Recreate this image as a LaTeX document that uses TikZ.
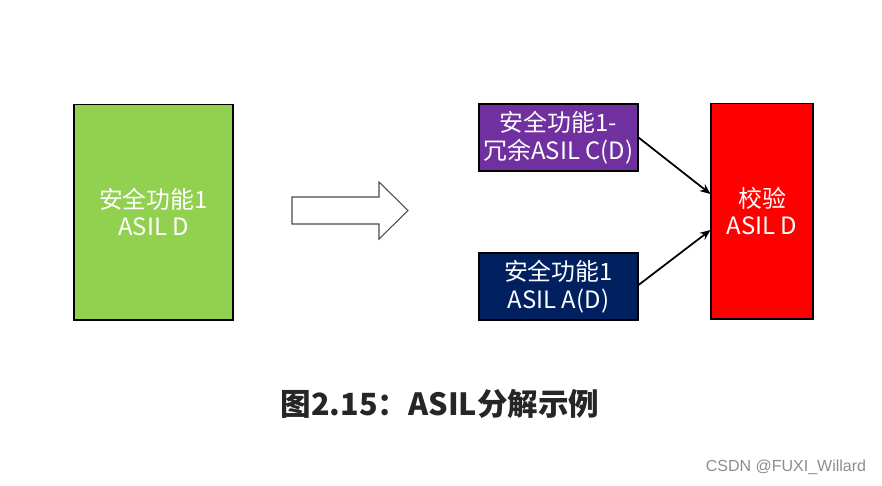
\documentclass[tikz,border=0pt]{standalone}
\usepackage{fontspec}
\usepackage{tikz}
\usepackage{xcolor}
\usetikzlibrary{arrows.meta}
\newfontfamily\cjk{Noto Sans CJK SC}
\newfontfamily\wmfont{Liberation Sans}
\definecolor{fgreen}{HTML}{92D050}
\definecolor{fpurple}{HTML}{7030A0}
\definecolor{fnavy}{HTML}{002060}
\definecolor{fred}{HTML}{FF0000}

\begin{document}
\begin{tikzpicture}[x=0.02cm, y=-0.02cm,
    every node/.style={font=\cjk\fontsize{13.6pt}{15.9pt}\selectfont, text=white, align=center},
    blk/.style={draw=black, line width=0.6pt, inner sep=0pt},
    conn/.style={-{Stealth[length=6pt, width=5pt]}, line width=1pt}]
    \useasboundingbox (0,0) rectangle (882,485);

    % Original function
    \node[blk, fill=fgreen, minimum width=3.18cm, minimum height=4.32cm] (orig) at (153.5,212) {安全功能1\\ASIL D};

    % Decomposition arrow
    \draw[line width=0.6pt, draw=black!70, fill=white]
        (292,197) -- (379,197) -- (379,182) -- (408,210.5) -- (379,239) -- (379,224) -- (292,224) -- cycle;

    % Redundant functions
    \node[blk, fill=fpurple, minimum width=3.18cm, minimum height=1.34cm] (redc) at (558.5,137.5) {安全功能1-\\冗余ASIL C(D)};
    \node[blk, fill=fnavy, minimum width=3.18cm, minimum height=1.34cm] (reda) at (558.5,286.5) {安全功能1\\ASIL A(D)};

    % Check
    \node[blk, fill=fred, minimum width=2.04cm, minimum height=4.32cm] (chk) at (762,211) {校验\\ASIL D};

    % Arrows into check
    \draw[conn] (redc.east) -- ([yshift=0.34cm]chk.west);
    \draw[conn] ([yshift=0.03cm]reda.east) -- ([yshift=-0.38cm]chk.west);

    % Caption
    \node[font=\cjk\bfseries\fontsize{17.4pt}{20pt}\selectfont, text=black!85] (cap) at (440,404) {图2.15：ASIL分解示例};

    % Watermark
    \node[font=\wmfont\fontsize{9.1pt}{11pt}\selectfont, text=black!45] (wm) at (786,467) {CSDN @FUXI\_Willard};
\end{tikzpicture}
\end{document}
